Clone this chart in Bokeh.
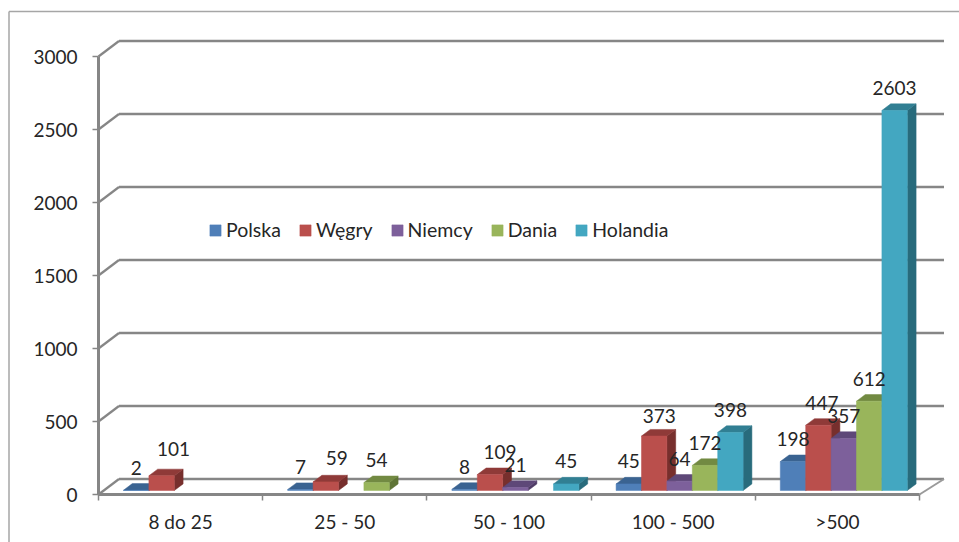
from bokeh.embed import file_html
from bokeh.resources import INLINE
from bokeh.plotting import figure
from bokeh.models import ColumnDataSource, FixedTicker, Legend, LegendItem
from bokeh.core.properties import value as V

categories = ["8 do 25", "25 - 50", "50 - 100", "100 - 500", ">500"]
polska = [2, 7, 8, 45, 198]
wegry = [101, 59, 109, 373, 447]
niemcy = [None, None, 21, 64, 357]
dania = [None, 54, None, 172, 612]
holandia = [None, None, 45, 398, 2603]
series_names = ["Polska", "Węgry", "Niemcy", "Dania", "Holandia"]
y_ticks = [0, 500, 1000, 1500, 2000, 2500, 3000]

series = [polska, wegry, niemcy, dania, holandia]
# colours: front, top, side
colours = [("#4F7FB8", "#3A6391", "#2F5278"),
           ("#BA4F4C", "#8F3A38", "#772F2D"),
           ("#7D609B", "#5E4878", "#4E3B65"),
           ("#99B55B", "#728A42", "#5F7436"),
           ("#43A7C1", "#317F93", "#286B7C")]

# layout
W, H = 959, 542
X0_PX, Y0_PX = 98, 494          # pixel of category 0 / value 0
CAT_PX = 164.2                  # pixels per category
VAL_PX = 0.146                  # pixels per unit of value
xu = 1 / CAT_PX
yu = 1 / VAL_PX
def X(px): return (px - X0_PX) * xu
def Y(px): return (Y0_PX - px) * yu

INK = "#262626"
GRID = "#868686"
FONT = "Lato"
FS = "19px"

p = figure(width=W, height=H, output_backend="svg", toolbar_location=None,
           x_range=(X(0), X(W)), y_range=(Y(H), Y(0)),
           min_border=0, min_border_left=0, min_border_right=0,
           min_border_top=0, min_border_bottom=0,
           x_axis_type="linear", y_axis_type="linear")
p.grid.visible = False
p.outline_line_color = None
p.background_fill_color = "white"

# chart border
p.line([X(8.5), X(8.5)], [Y(H), Y(11)], line_color="#A6A6A6", line_width=1.5)
p.line([X(8.5), X(W)], [Y(11), Y(11)], line_color="#A6A6A6", line_width=1.5)

# walls and floor
WALL_L, WALL_R, WALL_UP = 20.5 * xu, 24.5 * xu, 15.5 * yu
n = len(categories)
left_x = 0
right_x = float(n)
p.segment(x0=[left_x] * len(y_ticks), y0=y_ticks,
          x1=[left_x + WALL_L] * len(y_ticks), y1=[t + WALL_UP for t in y_ticks],
          line_color=GRID, line_width=2.2)
p.segment(x0=[left_x + WALL_L] * len(y_ticks), y0=[t + WALL_UP for t in y_ticks],
          x1=[right_x + WALL_R] * len(y_ticks), y1=[t + WALL_UP for t in y_ticks],
          line_color=GRID, line_width=2.6)
p.line([right_x, right_x + WALL_R], [0, WALL_UP], line_color="#9A9A9A", line_width=2)

# bars
BAR_START, BAR_W = 25.0 * xu, 25.4 * xu
DEPTH_X, DEPTH_Y = 8.8 * xu, 6.6 * yu
BASE = 4 * yu
front_renderers = []
for s, vals in enumerate(series):
    left, right, bottom, top, sx, sy, tx, ty = [], [], [], [], [], [], [], []
    for c, v in enumerate(vals):
        if v is None:
            continue
        x0 = c + BAR_START + s * BAR_W
        x1 = x0 + BAR_W
        t = BASE + v
        left.append(x0); right.append(x1); bottom.append(BASE); top.append(t)
        sx.append([x1, x1 + DEPTH_X, x1 + DEPTH_X, x1])
        sy.append([BASE, BASE + DEPTH_Y, t + DEPTH_Y, t])
        tx.append([x0, x0 + DEPTH_X, x1 + DEPTH_X, x1])
        ty.append([t, t + DEPTH_Y, t + DEPTH_Y, t])
    front, top_c, side = colours[s]
    p.patches(sx, sy, fill_color=side, line_color=side, line_width=0.5)
    p.patches(tx, ty, fill_color=top_c, line_color=top_c, line_width=0.5)
    r = p.quad(left=left, right=right, bottom=bottom, top=top,
               fill_color=front, line_color=front, line_width=0.5)
    front_renderers.append(r)

# value labels (default sits 22px above the bar; a few were moved in the source)
nudges = {(1, 0): (12, -4), (1, 1): (11, -1), (1, 2): (10, 0), (1, 3): (5, 2.5),
          (1, 4): (3.5, 0)}
lx, ly, lt, ox, oy = [], [], [], [], []
for s, vals in enumerate(series):
    for c, v in enumerate(vals):
        if v is None:
            continue
        lx.append(c + BAR_START + (s + 0.5) * BAR_W)
        ly.append(BASE + v)
        lt.append(str(v))
        dx, dy = nudges.get((s, c), (0, 0))
        ox.append(dx)
        oy.append(-22.5 + dy)
src = ColumnDataSource(dict(x=lx, y=ly, t=lt, ox=ox, oy=oy))
p.text("x", "y", text="t", x_offset="ox", y_offset="oy", source=src,
       text_font=V(FONT), text_font_size=V(FS), text_color=INK,
       text_align="center", text_baseline="middle")

# axes
xa = p.xaxis[0]
xa.fixed_location = 0
xa.bounds = (0, n)
xa.ticker = FixedTicker(ticks=[i + 0.5 for i in range(n)], minor_ticks=list(range(n + 1)))
xa.major_label_overrides = {i + 0.5: c for i, c in enumerate(categories)}
xa.major_tick_out = 0
xa.major_tick_in = 0
xa.minor_tick_out = 6
xa.minor_tick_in = 0
xa.minor_tick_line_color = GRID
xa.minor_tick_line_width = 1.5
xa.axis_line_color = GRID
xa.axis_line_width = 3
xa.major_label_standoff = 9
xa.major_label_text_font = FONT
xa.major_label_text_font_size = FS
xa.major_label_text_color = INK

ya = p.yaxis[0]
ya.fixed_location = 0
ya.bounds = (0, 3000)
ya.ticker = FixedTicker(ticks=y_ticks)
ya.minor_tick_line_color = None
ya.major_tick_out = 6
ya.major_tick_in = 0
ya.major_tick_line_color = GRID
ya.major_tick_line_width = 1.5
ya.axis_line_color = GRID
ya.axis_line_width = 3
ya.major_label_standoff = 15
ya.major_label_text_font = FONT
ya.major_label_text_font_size = FS
ya.major_label_text_color = INK
ya.major_label_orientation = "horizontal"

legend = Legend(items=[LegendItem(label=name, renderers=[r]) for name, r in zip(series_names, front_renderers)],
                orientation="horizontal", location=(208, 301),
                background_fill_alpha=0, border_line_color=None,
                glyph_width=14, glyph_height=14, label_standoff=4, spacing=17,
                padding=0, margin=0,
                label_text_font=FONT, label_text_font_size="19.5px", label_text_color=INK)
p.add_layout(legend)

open("out.html", "w").write(file_html(p, INLINE))
